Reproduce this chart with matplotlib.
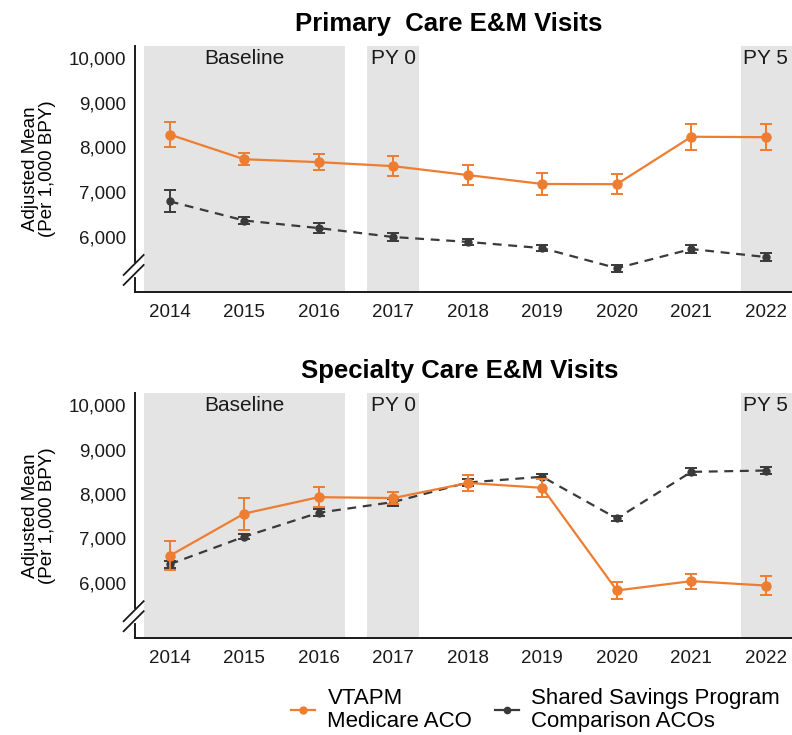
"""
Primary / specialty care E&M visits, VTAPM vs comparison ACOs
"""

import numpy as np
import matplotlib.pyplot as plt
from matplotlib.lines import Line2D

plt.rcParams['font.family'] = ['Liberation Sans', 'DejaVu Sans']

years = [2014, 2015, 2016, 2017, 2018, 2019, 2020, 2021, 2022]

# Primary care (adjusted mean per 1,000 BPY)
pc_vtapm = [8290, 7735, 7670, 7580, 7380, 7180, 7175, 8240, 8230]
pc_vtapm_err = [270, 130, 180, 220, 220, 240, 220, 290, 290]
pc_comp = [6790, 6360, 6190, 5990, 5880, 5740, 5290, 5720, 5540]
pc_comp_err = [250, 80, 120, 80, 60, 70, 80, 100, 90]

# Specialty care
sc_vtapm = [6610, 7560, 7930, 7910, 8250, 8140, 5830, 6040, 5940]
sc_vtapm_err = [330, 360, 230, 130, 170, 200, 200, 170, 220]
sc_comp = [6420, 7040, 7580, 7820, 8260, 8390, 7450, 8500, 8530]
sc_comp_err = [80, 60, 80, 80, 70, 60, 60, 80, 70]

yticks = [6000, 7000, 8000, 9000, 10000]
periods = [("Baseline", 2013.65, 2016.35), ("PY 0", 2016.65, 2017.35),
           ("PY 5", 2021.67, 2022.6)]
label_x = {"Baseline": 2015.0, "PY 0": 2017.0, "PY 5": 2022.0}

ORANGE = '#ED7D31'
DARK = '#3a3a3a'
SHADE = '#e4e4e4'

fig = plt.figure(figsize=(7.92, 7.35), dpi=100)
ax_top = fig.add_axes([0.170, 0.603, 0.830, 0.334])
ax_bot = fig.add_axes([0.170, 0.132, 0.830, 0.333])


def draw_panel(ax, title, title_x, vt, vt_err, cp, cp_err):
    ylo, yhi = 4760, 10270
    for name, x0, x1 in periods:
        ax.axvspan(x0, x1, color=SHADE, lw=0, zorder=0)
        ax.text(label_x[name], 10000, name, ha='center', va='center',
                fontsize=15, color='#1a1a1a')

    ax.errorbar(years, cp, yerr=cp_err, color=DARK, lw=1.6, ls=(0, (4, 3)),
                marker='o', ms=5, capsize=4, capthick=1.4, elinewidth=1.4,
                zorder=3)
    ax.errorbar(years, vt, yerr=vt_err, color=ORANGE, lw=1.6, marker='o',
                ms=6.5, capsize=4, capthick=1.4, elinewidth=1.4, zorder=4)

    ax.set_xlim(2013.53, 2022.35)
    ax.set_ylim(ylo, yhi)
    ax.set_xticks(years)
    ax.set_xticklabels([str(y) for y in years])
    ax.set_yticks(yticks)
    ax.set_yticklabels([f"{v:,}" for v in yticks])
    ax.tick_params(length=0, labelsize=13.5, pad=6, colors='#1a1a1a')
    ax.tick_params(axis='x', pad=9)
    for s in ['top', 'right']:
        ax.spines[s].set_visible(False)
    for s in ['left', 'bottom']:
        ax.spines[s].set_linewidth(1.4)
        ax.spines[s].set_color('#1a1a1a')

    ax.set_ylabel("Adjusted Mean\n(Per 1,000 BPY)", fontsize=13.5,
                  linespacing=1.05, labelpad=9)
    ax.set_title(title, fontsize=18.5, fontweight='bold', pad=11,
                 x=title_x)

    # axis break marks
    w = ax.get_position().width * fig.get_figwidth() * fig.dpi
    h = ax.get_position().height * fig.get_figheight() * fig.dpi
    yb = (5250 - ylo) / (yhi - ylo)
    gap = 5 / h
    ax.plot([0, 0], [yb - gap, yb + gap], color='white', lw=3,
            transform=ax.transAxes, clip_on=False, zorder=5)
    for off in (-gap, gap):
        ax.plot([-11 / w, 9 / w], [yb + off - 10 / h, yb + off + 10 / h],
                color='#1a1a1a', lw=1.3, transform=ax.transAxes,
                clip_on=False, zorder=6)


draw_panel(ax_top, "Primary  Care E&M Visits", 0.478, pc_vtapm, pc_vtapm_err,
           pc_comp, pc_comp_err)
draw_panel(ax_bot, "Specialty Care E&M Visits", 0.494, sc_vtapm, sc_vtapm_err,
           sc_comp, sc_comp_err)

handles = [
    Line2D([], [], color=ORANGE, lw=1.6, marker='o', ms=5),
    Line2D([], [], color=DARK, lw=1.6, marker='o', ms=4.5),
]
fig.legend(handles, ["VTAPM\nMedicare ACO",
                     "Shared Savings Program\nComparison ACOs"],
           loc='center', bbox_to_anchor=(0.676, 0.034), ncol=2, frameon=False,
           fontsize=16, handlelength=1.1, handletextpad=0.55,
           columnspacing=1.0, borderpad=0, labelspacing=0)
for t in fig.legends[0].get_texts():
    t.set_linespacing(1.15)

plt.savefig('out.png', dpi=100, facecolor='white')
plt.close()
